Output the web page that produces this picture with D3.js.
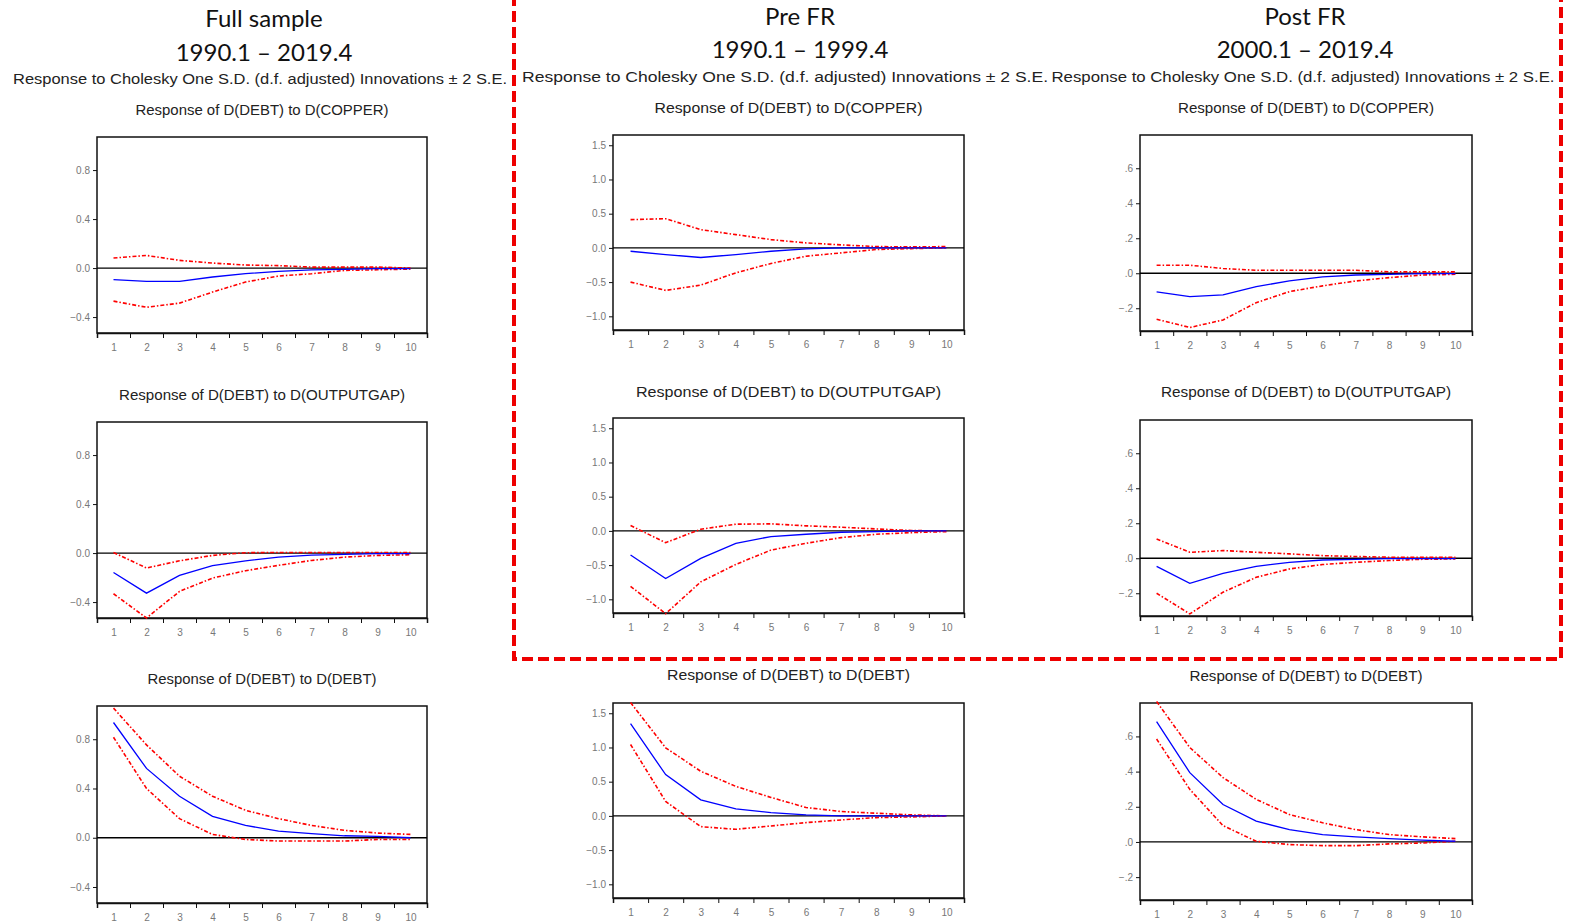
<!DOCTYPE html>
<html>
<head>
<meta charset="utf-8">
<script src="https://d3js.org/d3.v7.min.js"></script>
<style>
  body { margin: 0; background: #fff; }
  svg { display: block; }
</style>
</head>
<body>
<svg id="vis"></svg>
<script>
    // horizons (periods after shock)
    var horizons = [1, 2, 3, 4, 5, 6, 7, 8, 9, 10];

    // header texts
    var sampleNames = ["Full sample", "Pre FR", "Post FR"];
    var samplePeriods = ["1990.1 \u2013 2019.4", "1990.1 \u2013 1999.4", "2000.1 \u2013 2019.4"];
    var subTitle = "Response to Cholesky One S.D. (d.f. adjusted) Innovations \u00b1 2 S.E.";
    var shockNames = ["D(COPPER)", "D(OUTPUTGAP)", "D(DEBT)"];

    // y tick values per sample
    var fullTicks = [-0.4, 0.0, 0.4, 0.8];
    var preTicks = [-1.0, -0.5, 0.0, 0.5, 1.0, 1.5];
    var postTicks = [-0.2, 0.0, 0.2, 0.4, 0.6];

    // Full sample
    var fullCopperIrf = [-0.095, -0.109, -0.109, -0.073, -0.046, -0.027, -0.014, -0.010, -0.004, -0.004];
    var fullCopperUp  = [0.082, 0.103, 0.063, 0.041, 0.025, 0.020, 0.008, 0.008, 0.008, 0.000];
    var fullCopperLo  = [-0.270, -0.320, -0.286, -0.196, -0.114, -0.065, -0.046, -0.019, -0.014, -0.008];

    var fullGapIrf = [-0.158, -0.327, -0.182, -0.103, -0.063, -0.033, -0.016, -0.011, -0.005, -0.005];
    var fullGapUp  = [0.005, -0.122, -0.063, -0.019, 0.003, 0.005, 0.005, 0.005, 0.005, 0.004];
    var fullGapLo  = [-0.332, -0.530, -0.313, -0.204, -0.144, -0.100, -0.060, -0.033, -0.019, -0.014];

    var fullDebtIrf = [0.936, 0.563, 0.337, 0.174, 0.100, 0.054, 0.033, 0.016, 0.011, 0.000];
    var fullDebtUp  = [1.053, 0.754, 0.500, 0.337, 0.223, 0.155, 0.100, 0.060, 0.038, 0.027];
    var fullDebtLo  = [0.816, 0.400, 0.155, 0.027, -0.014, -0.027, -0.027, -0.027, -0.014, -0.014];

    // Pre FR
    var preCopperIrf = [-0.049, -0.097, -0.140, -0.097, -0.049, -0.015, 0.000, 0.000, 0.000, 0.000];
    var preCopperUp  = [0.413, 0.427, 0.267, 0.194, 0.121, 0.073, 0.044, 0.019, 0.015, 0.019];
    var preCopperLo  = [-0.500, -0.621, -0.544, -0.364, -0.228, -0.121, -0.073, -0.024, -0.010, 0.000];

    var preGapIrf = [-0.353, -0.696, -0.402, -0.181, -0.083, -0.049, -0.020, -0.010, 0.000, 0.000];
    var preGapUp  = [0.078, -0.172, 0.025, 0.098, 0.103, 0.074, 0.054, 0.029, 0.005, 0.000];
    var preGapLo  = [-0.810, -1.210, -0.745, -0.490, -0.280, -0.181, -0.098, -0.049, -0.025, -0.010];

    var preDebtIrf = [1.348, 0.603, 0.235, 0.103, 0.049, 0.015, 0.000, 0.000, 0.000, 0.000];
    var preDebtUp  = [1.657, 0.995, 0.652, 0.431, 0.270, 0.123, 0.064, 0.039, 0.015, 0.000];
    var preDebtLo  = [1.044, 0.211, -0.157, -0.196, -0.147, -0.098, -0.059, -0.025, -0.015, 0.000];

    // Post FR
    var postCopperIrf = [-0.107, -0.133, -0.124, -0.076, -0.044, -0.021, -0.010, -0.006, -0.002, -0.002];
    var postCopperUp  = [0.046, 0.046, 0.027, 0.017, 0.017, 0.017, 0.017, 0.008, 0.008, 0.008];
    var postCopperLo  = [-0.263, -0.310, -0.267, -0.168, -0.105, -0.072, -0.044, -0.025, -0.010, -0.006];

    var postGapIrf = [-0.046, -0.143, -0.086, -0.046, -0.023, -0.010, -0.006, -0.002, -0.002, -0.002];
    var postGapUp  = [0.110, 0.034, 0.044, 0.034, 0.025, 0.015, 0.010, 0.006, 0.006, 0.006];
    var postGapLo  = [-0.200, -0.318, -0.194, -0.109, -0.061, -0.036, -0.023, -0.013, -0.006, -0.004];

    var postDebtIrf = [0.684, 0.394, 0.213, 0.118, 0.070, 0.042, 0.029, 0.019, 0.010, 0.004];
    var postDebtUp  = [0.798, 0.537, 0.366, 0.242, 0.156, 0.109, 0.070, 0.042, 0.029, 0.019];
    var postDebtLo  = [0.585, 0.299, 0.093, 0.004, -0.015, -0.021, -0.021, -0.011, -0.006, 0.004];

    var width = 1569, height = 922;

    var svg = d3.select("#vis")
        .attr("width", width)
        .attr("height", height);

    var fmtFull = d3.format(".1f");
    var fmtShort = function(d) { return d3.format(".1f")(d).replace("0.", "."); };

    // layout of the three sample columns
    var cols = [
        {x0: 97, x1: 427, cx: 264, subCx: 260, subLen: 494, domain: [-0.53, 1.07], ticks: fullTicks, fmt: fmtFull,
         nameY: 27, periodY: 61, subY: 84,
         rows: [[137, 333], [422, 618], [706, 903]], titleY: [115, 400, 684], titleLen: [253, 286, 229],
         data: [[fullCopperIrf, fullCopperUp, fullCopperLo], [fullGapIrf, fullGapUp, fullGapLo], [fullDebtIrf, fullDebtUp, fullDebtLo]]},
        {x0: 613, x1: 964, cx: 800, subCx: 785, subLen: 526, domain: [-1.2, 1.65], ticks: preTicks, fmt: fmtFull,
         nameY: 25, periodY: 58, subY: 82,
         rows: [[135, 330], [418, 613], [703, 898]], titleY: [113, 397, 680], titleLen: [268, 305, 243],
         data: [[preCopperIrf, preCopperUp, preCopperLo], [preGapIrf, preGapUp, preGapLo], [preDebtIrf, preDebtUp, preDebtLo]]},
        {x0: 1140, x1: 1472, cx: 1305, subCx: 1303, subLen: 503, domain: [-0.33, 0.79], ticks: postTicks, fmt: fmtShort,
         nameY: 25, periodY: 58, subY: 82,
         rows: [[135, 331], [420, 616], [703, 900]], titleY: [113, 397, 681], titleLen: [256, 290, 233],
         data: [[postCopperIrf, postCopperUp, postCopperLo], [postGapIrf, postGapUp, postGapLo], [postDebtIrf, postDebtUp, postDebtLo]]}
    ];

    // red dashed frame around the pre/post columns
    svg.append("path")
        .attr("d", "M514,-5 V659 H1561 V-5")
        .attr("fill", "none")
        .attr("stroke", "#ee0000")
        .attr("stroke-width", 4)
        .attr("stroke-dasharray", "11,5");

    cols.forEach(function(c, ci) {
        // headers
        svg.append("text")
            .attr("x", c.cx).attr("y", c.nameY)
            .attr("text-anchor", "middle")
            .style("font-family", "Lato, 'Open Sans', sans-serif")
            .style("font-size", "24px")
            .style("fill", "#111")
            .text(sampleNames[ci]);

        svg.append("text")
            .attr("x", c.cx).attr("y", c.periodY)
            .attr("text-anchor", "middle")
            .style("font-family", "Lato, 'Open Sans', sans-serif")
            .style("font-size", "24px")
            .style("fill", "#111")
            .text(samplePeriods[ci]);

        svg.append("text")
            .attr("x", c.subCx - c.subLen / 2).attr("y", c.subY)
            .attr("textLength", c.subLen)
            .attr("lengthAdjust", "spacingAndGlyphs")
            .style("font-family", "'Liberation Sans', Arial, sans-serif")
            .style("font-size", "14px")
            .style("fill", "#222")
            .text(subTitle);

        c.rows.forEach(function(r, ri) {
            var x = d3.scaleLinear().domain([0.5, 10.5]).range([c.x0, c.x1]);
            var y = d3.scaleLinear().domain(c.domain).range([r[1], r[0]]);
            var g = svg.append("g");

            // panel title
            var ttl = "Response of D(DEBT) to " + shockNames[ri];
            g.append("text")
                .attr("x", (c.x0 + c.x1) / 2 - c.titleLen[ri] / 2).attr("y", c.titleY[ri])
                .attr("textLength", c.titleLen[ri])
                .attr("lengthAdjust", "spacingAndGlyphs")
                .style("font-family", "'Liberation Sans', Arial, sans-serif")
                .style("font-size", "14px")
                .style("fill", "#222")
                .text(ttl);

            // box
            g.append("rect")
                .attr("x", c.x0).attr("y", r[0])
                .attr("width", c.x1 - c.x0).attr("height", r[1] - r[0])
                .attr("fill", "none")
                .attr("stroke", "#111")
                .attr("stroke-width", 1.5);

            // y axis
            var ya = g.append("g")
                .attr("transform", "translate(" + c.x0 + ",0)")
                .call(d3.axisLeft(y).tickValues(c.ticks).tickFormat(c.fmt).tickSize(4).tickPadding(3));
            ya.select(".domain").remove();
            ya.selectAll("line").attr("stroke", "#111");
            ya.selectAll("text").style("font-family", "'Liberation Sans', Arial, sans-serif")
                .style("font-size", "10px").style("fill", "#777");

            // x axis tick marks at band boundaries
            var xa = g.append("g")
                .attr("transform", "translate(0," + r[1] + ")")
                .call(d3.axisBottom(x).tickValues(d3.range(0.5, 11, 1)).tickFormat("").tickSize(5));
            xa.select(".domain").attr("stroke", "#111").attr("stroke-width", 1.5);
            xa.selectAll("line").attr("stroke", "#111");

            // x labels at band centres
            var xl = g.append("g")
                .attr("transform", "translate(0," + r[1] + ")")
                .call(d3.axisBottom(x).tickValues(horizons).tickSize(0).tickPadding(11));
            xl.select(".domain").remove();
            xl.selectAll("text").style("font-family", "'Liberation Sans', Arial, sans-serif")
                .style("font-size", "10px").style("fill", "#777");

            // zero line
            g.append("line")
                .attr("x1", c.x0).attr("x2", c.x1)
                .attr("y1", y(0)).attr("y2", y(0))
                .attr("stroke", "#000")
                .attr("stroke-width", 1.3);

            var set = c.data[ri];
            var line = d3.line()
                .x(function(d, i) { return x(horizons[i]); })
                .y(function(d) { return y(d); });

            // +/- 2 S.E. bands
            [set[1], set[2]].forEach(function(band) {
                g.append("path")
                    .datum(band)
                    .attr("d", line)
                    .attr("fill", "none")
                    .attr("stroke", "#ff0000")
                    .attr("stroke-width", 1.6)
                    .attr("stroke-dasharray", "4,2,1.5,2");
            });

            // impulse response
            g.append("path")
                .datum(set[0])
                .attr("d", line)
                .attr("fill", "none")
                .attr("stroke", "#0000ff")
                .attr("stroke-width", 1.3);
        });
    });
</script>
</body>
</html>
